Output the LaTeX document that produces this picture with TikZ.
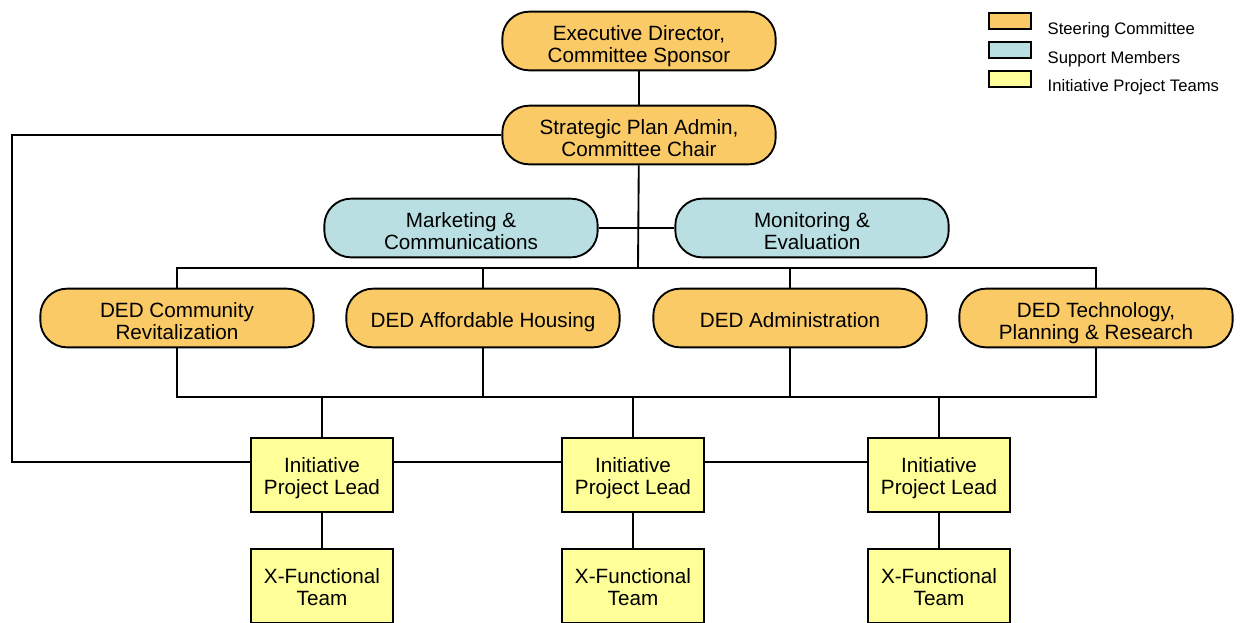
\documentclass[tikz,border=0pt]{standalone}
\usepackage{fontspec}
\setmainfont{Liberation Sans}
\definecolor{steerfill}{RGB}{250,202,102}
\definecolor{supportfill}{RGB}{185,223,226}
\definecolor{teamfill}{RGB}{255,255,153}
\tikzset{
  steer/.style={draw, line width=1.4pt, fill=steerfill, rounded corners=20pt,
    minimum width=205pt, minimum height=44pt, align=center,
    font=\fontsize{15.5}{16.5}\selectfont, text height=32pt, text depth=0pt},
  oneline/.style={text height=17pt, text depth=3pt},
  support/.style={steer, fill=supportfill},
  teambox/.style={draw, line width=1.4pt, fill=teamfill,
    minimum width=106pt, minimum height=56pt, align=center,
    font=\fontsize{15.5}{16.5}\selectfont, text height=29.5pt, text depth=0pt},
  keybox/.style={draw, line width=1.4pt, minimum width=31pt, minimum height=12.5pt},
  keytext/.style={anchor=west, font=\fontsize{12.5}{14}\selectfont},
  link/.style={line width=1.4pt}
}
\begin{document}
\begin{tikzpicture}[x=0.75pt, y=-0.75pt]
    \clip (0,0) rectangle (1242,622);
    \fill[white] (0,0) rectangle (1242,622);
    \node[steer] (exec) at (639,41) {Executive Director,\\Committee Sponsor};
    \node[steer] (plan) at (639,135) {Strategic Plan Admin,\\Committee Chair};
    \node[support] (mkt) at (461,228) {Marketing \&\\Communications};
    \node[support] (mon) at (812,228) {Monitoring \&\\Evaluation};
    \node[steer] (comm) at (177,318) {DED Community\\Revitalization};
    \node[steer, oneline] (house) at (483,318) {DED Affordable Housing};
    \node[steer, oneline] (admin) at (790,318) {DED Administration};
    \node[steer] (tech) at (1096,318) {DED Technology,\\Planning \& Research};
    \node[teambox] (lead1) at (322,475) {Initiative\\Project Lead};
    \node[teambox] (lead2) at (633,475) {Initiative\\Project Lead};
    \node[teambox] (lead3) at (939,475) {Initiative\\Project Lead};
    \node[teambox] (team1) at (322,586) {X-Functional\\Team};
    \node[teambox] (team2) at (633,586) {X-Functional\\Team};
    \node[teambox] (team3) at (939,586) {X-Functional\\Team};
    \coordinate (bustop) at (638,268);
    \coordinate (busbot) at (638,397);
    \coordinate (loop) at (12,462);
    \draw[link] (exec) -- (plan);
    \draw[link] (plan) -- (bustop);
    \draw[link] (mkt) -- (mon);
    \draw[link] (comm.north) |- (bustop);
    \draw[link] (tech.north) |- (bustop);
    \draw[link] (house.north) -- (house |- bustop);
    \draw[link] (admin.north) -- (admin |- bustop);
    \draw[link] (comm.south) |- (busbot);
    \draw[link] (tech.south) |- (busbot);
    \draw[link] (house.south) -- (house |- busbot);
    \draw[link] (admin.south) -- (admin |- busbot);
    \draw[link] (lead1.north) -- (lead1 |- busbot);
    \draw[link] (lead2.north) -- (lead2 |- busbot);
    \draw[link] (lead3.north) -- (lead3 |- busbot);
    \draw[link] (plan.west) -| (loop) -- (loop -| lead1.west);
    \draw[link] (lead1.east |- loop) -- (lead2.west |- loop);
    \draw[link] (lead2.east |- loop) -- (lead3.west |- loop);
    \draw[link] (lead1) -- (team1);
    \draw[link] (lead2) -- (team2);
    \draw[link] (lead3) -- (team3);
    \node[keybox, fill=steerfill] (key1) at (1010,21) {};
    \node[keybox, fill=supportfill] (key2) at (1010,50) {};
    \node[keybox, fill=teamfill] (key3) at (1010,79) {};
    \node[keytext] (keytext1) at (1043,30) {Steering Committee};
    \node[keytext] (keytext2) at (1043,59) {Support Members};
    \node[keytext] (keytext3) at (1043,87) {Initiative Project Teams};
\end{tikzpicture}
\end{document}
